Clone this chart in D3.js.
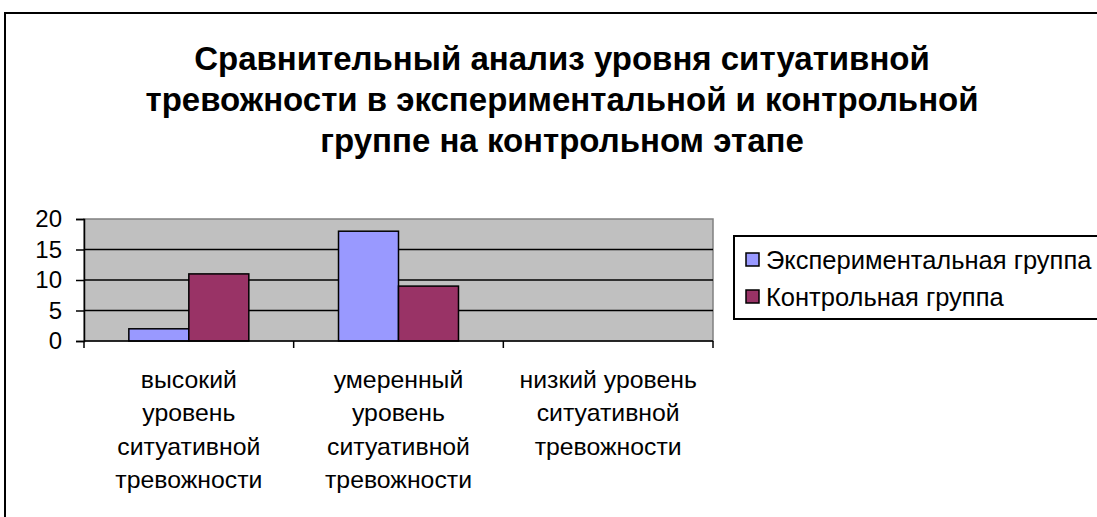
<!DOCTYPE html>
<html>
<head>
<meta charset="utf-8">
<script src="https://cdn.jsdelivr.net/npm/d3@7/dist/d3.min.js"></script>
<style>
  html, body { margin: 0; padding: 0; background: #fff; }
  svg { display: block; font-family: "Liberation Sans", Arial, sans-serif; }
</style>
</head>
<body>
<svg id="chart" width="1097" height="517"></svg>
<script>
// Chart content
const titleLines = [
  "Сравнительный анализ уровня ситуативной",
  "тревожности в экспериментальной и контрольной",
  "группе на контрольном этапе"
];
const categories = [
  ["высокий", "уровень", "ситуативной", "тревожности"],
  ["умеренный", "уровень", "ситуативной", "тревожности"],
  ["низкий уровень", "ситуативной", "тревожности"]
];
const seriesNames = ["Экспериментальная группа", "Контрольная группа"];
const experimentalValues = [2, 18, 0];
const controlValues = [11, 9, 0];
const yTicks = [0, 5, 10, 15, 20];
const seriesColors = ["#9999FF", "#993366"];

const svg = d3.select("#chart");

// Outer chart frame (runs off the right and bottom of the page)
svg.append("rect")
  .attr("x", 5).attr("y", 13)
  .attr("width", 1200).attr("height", 600)
  .attr("fill", "#fff").attr("stroke", "#000").attr("stroke-width", 2);

// Title
svg.append("g").selectAll("text")
  .data(titleLines)
  .join("text")
  .attr("x", 562)
  .attr("y", (d, i) => 70 + i * 41)
  .attr("text-anchor", "middle")
  .attr("font-weight", "bold")
  .attr("font-size", 33)
  .text(d => d);

// Plot area geometry
const plot = { left: 84, right: 713, top: 219, bottom: 341 };
const catIdx = categories.map((d, i) => i);

const x0 = d3.scaleBand().domain(catIdx).range([plot.left, plot.right]).paddingInner(0).paddingOuter(0);
const x1 = d3.scaleBand().domain(seriesNames).range([0, x0.bandwidth()]).paddingInner(0).paddingOuter(0.7475);
const y = d3.scaleLinear().domain([0, 20]).range([plot.bottom, plot.top]);

// Grey plot background
svg.append("rect")
  .attr("x", plot.left).attr("y", plot.top)
  .attr("width", plot.right - plot.left).attr("height", plot.bottom - plot.top)
  .attr("fill", "#C0C0C0").attr("stroke", "#808080").attr("stroke-width", 1.5);

// Horizontal gridlines
svg.append("g").selectAll("line")
  .data(yTicks.filter(t => t > 0 && t < 20))
  .join("line")
  .attr("x1", plot.left).attr("x2", plot.right)
  .attr("y1", d => y(d)).attr("y2", d => y(d))
  .attr("stroke", "#000").attr("stroke-width", 1.5);

// Bars
const rows = catIdx.map(i => ({ i, vals: [experimentalValues[i], controlValues[i]] }));
const groups = svg.append("g").selectAll("g")
  .data(rows)
  .join("g")
  .attr("transform", d => `translate(${x0(d.i)},0)`);
groups.selectAll("rect")
  .data(d => d.vals.map((v, k) => ({ v, k })).filter(e => e.v > 0))
  .join("rect")
  .attr("x", d => x1(seriesNames[d.k]))
  .attr("width", x1.bandwidth())
  .attr("y", d => y(d.v))
  .attr("height", d => y(0) - y(d.v))
  .attr("fill", d => seriesColors[d.k])
  .attr("stroke", "#000").attr("stroke-width", 1.5);

// Y axis
const yAxis = d3.axisLeft(y).tickValues(yTicks).tickSize(8).tickPadding(14);
const yg = svg.append("g").attr("transform", `translate(${plot.left},0)`).call(yAxis);
yg.select(".domain").attr("stroke", "#000").attr("stroke-width", 1.5);
yg.selectAll(".tick line").attr("stroke", "#000").attr("stroke-width", 1.5);
yg.selectAll(".tick text")
  .attr("font-size", 24).attr("font-family", "Liberation Sans, Arial, sans-serif")
  .attr("fill", "#000");

// X axis line and category boundary ticks
const xBounds = d3.range(categories.length + 1).map(i => plot.left + i * x0.step());
svg.append("line")
  .attr("x1", plot.left).attr("x2", plot.right)
  .attr("y1", y(0)).attr("y2", y(0))
  .attr("stroke", "#000").attr("stroke-width", 1.5);
svg.append("g").selectAll("line")
  .data(xBounds)
  .join("line")
  .attr("x1", d => d).attr("x2", d => d)
  .attr("y1", y(0)).attr("y2", y(0) + 7)
  .attr("stroke", "#000").attr("stroke-width", 1.5);

// Category labels
const catLabels = svg.append("g").selectAll("text")
  .data(categories)
  .join("text")
  .attr("x", (d, i) => x0(i) + x0.bandwidth() / 2)
  .attr("y", 388)
  .attr("text-anchor", "middle")
  .attr("font-size", 24.8);
catLabels.selectAll("tspan")
  .data(d => d)
  .join("tspan")
  .attr("x", function () { return d3.select(this.parentNode).attr("x"); })
  .attr("dy", (d, i) => i === 0 ? 0 : 33.4)
  .text(d => d);

// Legend
const legend = svg.append("g");
legend.append("rect")
  .attr("x", 734).attr("y", 236)
  .attr("width", 420).attr("height", 83)
  .attr("fill", "#fff").attr("stroke", "#000").attr("stroke-width", 2);
const items = legend.selectAll("g.item")
  .data(seriesNames)
  .join("g")
  .attr("class", "item")
  .attr("transform", (d, i) => `translate(0,${i * 37})`);
items.append("rect")
  .attr("x", 746).attr("y", 253)
  .attr("width", 13).attr("height", 13)
  .attr("fill", (d, i) => seriesColors[i])
  .attr("stroke", "#000").attr("stroke-width", 1.5);
items.append("text")
  .attr("x", 766).attr("y", 269)
  .attr("font-size", 25.5)
  .text(d => d);
</script>
</body>
</html>
